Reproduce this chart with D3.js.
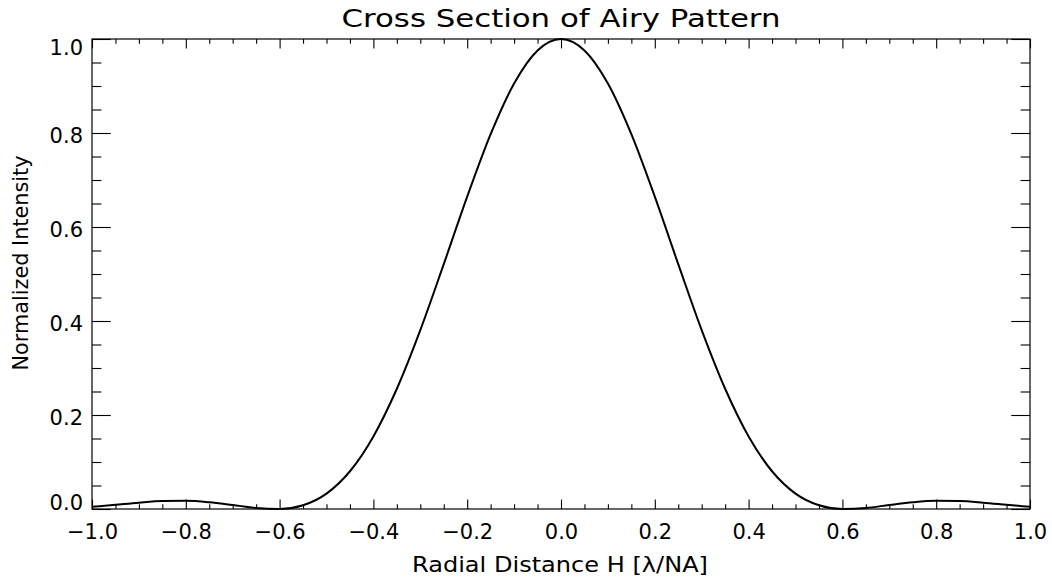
<!DOCTYPE html>
<html>
<head>
<meta charset="utf-8">
<script src="https://cdn.jsdelivr.net/npm/d3@7"></script>
<style>
  html, body { margin: 0; padding: 0; background: #fff; }
  text { font-family: "DejaVu Sans", "Liberation Sans", sans-serif; fill: #000; }
</style>
</head>
<body>
<svg id="chart" width="1052" height="579"></svg>
<script>
// ---- data ----
const radialDistance = [-1.0,-0.95,-0.9,-0.85,-0.8,-0.75,-0.7,-0.65,-0.6,-0.55,-0.5,-0.45,-0.4,-0.35,-0.3,-0.25,-0.2,-0.15,-0.1,-0.05,
  0.0,0.05,0.1,0.15,0.2,0.25,0.3,0.35,0.4,0.45,0.5,0.55,0.6,0.65,0.7,0.75,0.8,0.85,0.9,0.95,1.0];
const intensity = [0.0046,0.0090,0.0135,0.0168,0.0173,0.0143,0.0085,0.0023,0.0002,0.0081,0.0328,0.0803,0.1544,0.2558,0.3806,0.5209,0.6645,0.7975,0.9053,0.9756,
  1.0,0.9756,0.9053,0.7975,0.6645,0.5209,0.3806,0.2558,0.1544,0.0803,0.0328,0.0081,0.0002,0.0023,0.0085,0.0143,0.0173,0.0168,0.0135,0.0090,0.0046];
const xMajorTicks = [-1.0,-0.8,-0.6,-0.4,-0.2,0.0,0.2,0.4,0.6,0.8,1.0];
const xTickLabels = ["\u22121.0","\u22120.8","\u22120.6","\u22120.4","\u22120.2","0.0","0.2","0.4","0.6","0.8","1.0"];
const yMajorTicks = [0.0,0.2,0.4,0.6,0.8,1.0];
const yTickLabels = ["0.0","0.2","0.4","0.6","0.8","1.0"];
const titleText = "Cross Section of Airy Pattern";
const xTitle = "Radial Distance H [\u03BB/NA]";
const yTitle = "Normalized Intensity";

// ---- layout ----
const W = 1052, H = 579;
const m = {left: 92, right: 22, top: 39, bottom: 70};
const pw = W - m.left - m.right, ph = H - m.top - m.bottom;
const svg = d3.select("#chart");
const g = svg.append("g").attr("transform", `translate(${m.left},${m.top})`);

const x = d3.scaleLinear().domain([-1, 1]).range([0, pw]);
const y = d3.scaleLinear().domain([0, 1]).range([ph, 0]);

const xMinor = d3.range(-1, 1.0001, 0.05).map(v => +v.toFixed(2)).filter(v => !xMajorTicks.some(t => Math.abs(t - v) < 1e-6));
const yMinor = d3.range(0, 1.0001, 0.05).map(v => +v.toFixed(2)).filter(v => !yMajorTicks.some(t => Math.abs(t - v) < 1e-6));

const xTickMaj = 0.02 * ph, xTickMin = xTickMaj / 2;
const yTickMaj = 0.02 * pw, yTickMin = yTickMaj / 2;
const stroke = "#000";
const labelSize = 21;

// bottom axis
const xAxisB = d3.axisBottom(x).tickValues(xMajorTicks).tickSize(-xTickMaj)
  .tickFormat((d, i) => xTickLabels[i]);
const gxb = g.append("g").attr("transform", `translate(0,${ph})`).call(xAxisB);
gxb.select(".domain").remove();
gxb.selectAll("text").attr("font-size", labelSize).attr("y", 30).attr("dy", 0);
gxb.append("g").call(d3.axisBottom(x).tickValues(xMinor).tickSize(-xTickMin).tickFormat(""))
  .select(".domain").remove();
// top axis
const gxt = g.append("g").call(d3.axisTop(x).tickValues(xMajorTicks).tickSize(-xTickMaj).tickFormat(""));
gxt.select(".domain").remove();
gxt.append("g").call(d3.axisTop(x).tickValues(xMinor).tickSize(-xTickMin).tickFormat("")).select(".domain").remove();

// left axis
const gyl = g.append("g").call(d3.axisLeft(y).tickValues(yMajorTicks).tickSize(-yTickMaj).tickPadding(9)
  .tickFormat((d, i) => yTickLabels[i]));
gyl.select(".domain").remove();
// end labels kept inside the axis span, as in the reference
gyl.selectAll("text").attr("font-size", labelSize).attr("dy", 0)
  .attr("y", d => d === 0 ? 0 : (d === 1 ? 15.5 : 9));
gyl.append("g").call(d3.axisLeft(y).tickValues(yMinor).tickSize(-yTickMin).tickFormat("")).select(".domain").remove();
// right axis
const gyr = g.append("g").attr("transform", `translate(${pw},0)`)
  .call(d3.axisRight(y).tickValues(yMajorTicks).tickSize(-yTickMaj).tickFormat(""));
gyr.select(".domain").remove();
gyr.append("g").call(d3.axisRight(y).tickValues(yMinor).tickSize(-yTickMin).tickFormat("")).select(".domain").remove();

g.selectAll(".tick line").attr("stroke", stroke).attr("stroke-width", 1.1);

// frame
g.append("rect").attr("x", 0).attr("y", 0).attr("width", pw).attr("height", ph)
  .attr("fill", "none").attr("stroke", stroke).attr("stroke-width", 1.2);

// curve
const pts = radialDistance.map((d, i) => [d, intensity[i]]);
g.append("path").datum(pts)
  .attr("fill", "none").attr("stroke", "#000").attr("stroke-width", 2)
  .attr("d", d3.line().x(d => x(d[0])).y(d => y(d[1])).curve(d3.curveMonotoneX));

// titles
svg.append("text").attr("x", m.left + pw / 2).attr("y", 27).attr("text-anchor", "middle")
  .attr("font-size", 24).attr("textLength", 439).attr("lengthAdjust", "spacingAndGlyphs").text(titleText);
svg.append("text").attr("x", 560).attr("y", 572).attr("text-anchor", "middle")
  .attr("font-size", 22).attr("textLength", 296).attr("lengthAdjust", "spacingAndGlyphs").text(xTitle);
svg.append("text").attr("transform", "translate(28,263) rotate(-90)").attr("text-anchor", "middle")
  .attr("font-size", 21).attr("textLength", 215).attr("lengthAdjust", "spacingAndGlyphs").text(yTitle);
</script>
</body>
</html>
